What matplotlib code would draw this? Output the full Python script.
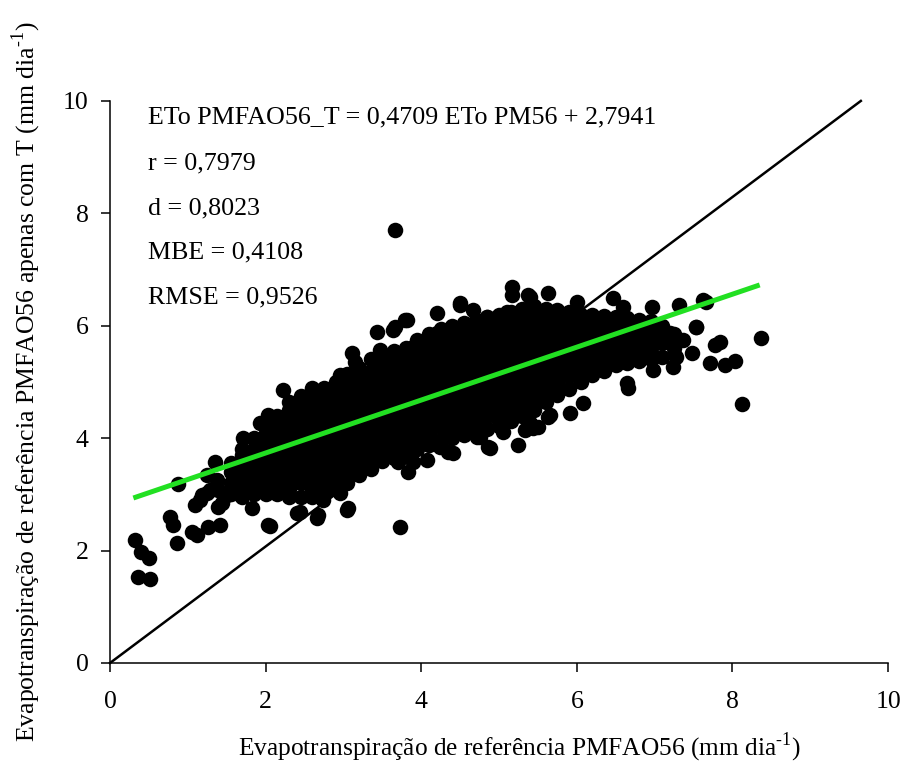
#!/usr/bin/env python3
"""ETo PMFAO56 com apenas temperatura vs ETo PMFAO56 padrao - dispersao."""

import matplotlib

matplotlib.use("Agg")
import matplotlib.pyplot as plt

plt.rcParams["font.family"] = ["Liberation Serif", "DejaVu Serif"]
plt.rcParams["mathtext.fontset"] = "custom"
plt.rcParams["mathtext.rm"] = "Liberation Serif"

# regression / statistics
slope = 0.4709
intercept = 2.7941
stats_lines = [
    "ETo PMFAO56_T = 0,4709 ETo PM56 + 2,7941",
    "r = 0,7979",
    "d = 0,8023",
    "MBE = 0,4108",
    "RMSE = 0,9526",
]
stats_y = [9.70, 8.88, 8.08, 7.30, 6.51]

# dense core of the cloud, read column by column (x, [y ...])
core_columns = [
    (1.55, [3.00, 3.20, 3.40, 3.55]),
    (1.70, [2.95, 3.10, 3.30, 3.50, 3.70, 3.80]),
    (1.85, [3.00, 3.20, 3.40, 3.60, 3.80, 4.00]),
    (2.00, [3.00, 3.10, 3.30, 3.50, 3.70, 3.90, 4.10, 4.25]),
    (2.15, [3.00, 3.20, 3.40, 3.60, 3.80, 4.00, 4.20, 4.40]),
    (2.30, [2.95, 3.10, 3.30, 3.50, 3.70, 3.90, 4.10, 4.30, 4.50, 4.65]),
    (2.45, [2.95, 3.20, 3.40, 3.60, 3.80, 4.00, 4.20, 4.40, 4.60, 4.75]),
    (2.60, [2.95, 3.10, 3.30, 3.50, 3.70, 3.90, 4.10, 4.30, 4.50, 4.70, 4.85]),
    (2.75, [3.00, 3.20, 3.40, 3.60, 3.80, 4.00, 4.20, 4.40, 4.60, 4.80, 4.90]),
    (2.90, [3.10, 3.30, 3.50, 3.70, 3.90, 4.10, 4.30, 4.50, 4.70, 4.90, 5.00]),
    (3.05, [3.20, 3.40, 3.60, 3.80, 4.00, 4.20, 4.40, 4.60, 4.80, 5.00, 5.15]),
    (3.20, [3.35, 3.50, 3.70, 3.90, 4.10, 4.30, 4.50, 4.70, 4.90, 5.10, 5.25]),
    (3.35, [3.45, 3.60, 3.80, 4.00, 4.20, 4.40, 4.60, 4.80, 5.00, 5.20, 5.40]),
    (3.50, [3.60, 3.70, 3.90, 4.10, 4.30, 4.50, 4.70, 4.90, 5.10, 5.30, 5.50]),
    (3.65, [3.65, 3.80, 4.00, 4.20, 4.40, 4.60, 4.80, 5.00, 5.20, 5.40, 5.55]),
    (3.80, [3.68, 3.90, 4.10, 4.30, 4.50, 4.70, 4.90, 5.10, 5.30, 5.50, 5.60]),
    (3.95, [3.80, 4.00, 4.20, 4.40, 4.60, 4.80, 5.00, 5.20, 5.40, 5.60, 5.75]),
    (4.10, [3.88, 4.10, 4.30, 4.50, 4.70, 4.90, 5.10, 5.30, 5.50, 5.70, 5.85]),
    (4.25, [3.97, 4.20, 4.40, 4.60, 4.80, 5.00, 5.20, 5.40, 5.60, 5.80, 5.95]),
    (4.40, [4.00, 4.10, 4.30, 4.50, 4.70, 4.90, 5.10, 5.30, 5.50, 5.70, 5.90, 6.00]),
    (4.55, [4.05, 4.20, 4.40, 4.60, 4.80, 5.00, 5.20, 5.40, 5.60, 5.80, 6.00, 6.05]),
    (4.70, [4.12, 4.30, 4.50, 4.70, 4.90, 5.10, 5.30, 5.50, 5.70, 5.90, 6.10]),
    (4.85, [4.17, 4.40, 4.60, 4.80, 5.00, 5.20, 5.40, 5.60, 5.80, 6.00, 6.15]),
    (5.00, [4.22, 4.30, 4.50, 4.70, 4.90, 5.10, 5.30, 5.50, 5.70, 5.90, 6.10, 6.20]),
    (5.15, [4.30, 4.40, 4.60, 4.80, 5.00, 5.20, 5.40, 5.60, 5.80, 6.00, 6.20, 6.25]),
    (5.30, [4.40, 4.50, 4.70, 4.90, 5.10, 5.30, 5.50, 5.70, 5.90, 6.10, 6.30]),
    (5.45, [4.50, 4.60, 4.80, 5.00, 5.20, 5.40, 5.60, 5.80, 6.00, 6.20, 6.35]),
    (5.60, [4.65, 4.70, 4.90, 5.10, 5.30, 5.50, 5.70, 5.90, 6.10, 6.30]),
    (5.75, [4.77, 4.80, 5.00, 5.20, 5.40, 5.60, 5.80, 6.00, 6.20, 6.28]),
    (5.90, [4.88, 5.10, 5.30, 5.50, 5.70, 5.90, 6.10, 6.25]),
    (6.05, [5.00, 5.20, 5.40, 5.60, 5.80, 6.00, 6.20]),
    (6.20, [5.12, 5.30, 5.50, 5.70, 5.90, 6.10, 6.20]),
    (6.35, [5.20, 5.40, 5.60, 5.80, 6.00, 6.18]),
    (6.50, [5.30, 5.50, 5.70, 5.90, 6.10, 6.15]),
    (6.65, [5.33, 5.40, 5.60, 5.80, 6.00, 6.13]),
    (6.80, [5.37, 5.50, 5.70, 5.90, 6.10]),
    (6.95, [5.40, 5.60, 5.80, 6.00, 6.08]),
    (7.10, [5.45, 5.70, 5.90, 6.00]),
    (7.25, [5.50, 5.60, 5.80, 5.85]),
]

upper_edge = [
    (2.22, 4.86), (2.60, 4.89), (2.72, 4.86), (2.96, 5.12), (3.11, 5.52),
    (3.15, 5.36), (3.43, 5.89), (3.47, 5.57), (3.64, 5.93), (3.66, 5.98),
    (3.79, 6.10), (3.82, 6.10), (3.89, 5.62), (4.20, 6.23), (4.20, 5.87),
    (4.50, 6.37), (4.50, 6.41), (4.67, 6.28), (4.85, 6.16), (5.10, 6.25),
    (5.17, 6.69), (5.17, 6.55), (5.37, 6.55), (5.40, 6.51), (5.63, 6.58),
    (6.00, 6.42), (6.47, 6.49), (6.59, 6.33), (6.97, 6.33), (7.31, 6.37),
    (7.20, 5.87), (7.37, 5.75), (7.53, 5.98), (2.03, 4.41), (1.93, 4.27),
    (1.71, 4.00), (1.35, 3.58),
]

lower_edge = [
    (1.83, 2.76), (2.06, 2.44), (2.03, 2.46), (2.40, 2.67), (2.44, 2.69),
    (2.66, 2.58), (2.67, 2.63), (2.74, 2.90), (2.83, 3.26), (2.96, 3.02),
    (3.05, 2.72), (3.06, 2.76), (3.70, 3.58), (3.83, 3.40), (3.89, 3.58),
    (4.07, 3.61), (4.24, 3.84), (4.34, 3.75), (4.41, 3.74), (4.72, 4.02),
    (4.76, 4.02), (4.86, 3.84), (4.88, 3.83), (5.05, 4.11), (5.24, 3.88),
    (5.33, 4.15), (5.40, 4.27), (5.44, 4.18), (5.50, 4.20), (5.63, 4.38),
    (5.66, 4.41), (5.91, 4.45), (6.08, 4.63), (6.65, 4.98), (6.66, 4.89),
    (6.98, 5.21), (7.24, 5.27), (7.28, 5.45), (7.48, 5.52),
]

low_end = [
    (0.32, 2.19), (0.40, 1.98), (0.50, 1.87), (0.36, 1.53), (0.51, 1.49),
    (0.77, 2.60), (0.81, 2.46), (0.86, 2.13), (0.87, 3.18), (1.05, 2.33),
    (1.12, 2.28), (1.09, 2.81), (1.18, 2.99), (1.26, 2.42), (1.41, 2.46),
    (1.25, 3.35), (1.16, 2.90), (1.25, 3.02), (1.29, 3.08), (1.37, 3.26),
    (1.39, 2.78), (1.44, 2.85), (1.50, 2.99), (1.39, 3.08),
]

right_tail = [
    (7.62, 6.46), (7.66, 6.42), (7.53, 5.98), (7.78, 5.66), (7.84, 5.71),
    (7.71, 5.34), (7.90, 5.30), (8.03, 5.37), (8.37, 5.78), (8.12, 4.61),
]

stray = [(3.66, 7.70), (3.73, 2.42)]


def main() -> None:
    pm56 = []
    pm56_t = []
    for x, ys in core_columns:
        pm56 += [x] * len(ys)
        pm56_t += ys
    for group in (upper_edge, lower_edge, low_end, right_tail, stray):
        pm56 += [p[0] for p in group]
        pm56_t += [p[1] for p in group]

    fig = plt.figure(figsize=(9.1, 7.71), dpi=100)
    ax = fig.add_axes([0.1209, 0.1401, 0.855, 0.729])

    # 1:1 line
    ax.plot([0, 9.65], [0, 10], color="black", lw=1.8, zorder=1, clip_on=False)
    ax.scatter(pm56, pm56_t, s=125, color="black", linewidths=0, zorder=2)
    fit_x = [0.30, 8.35]
    ax.plot(fit_x, [slope * v + intercept for v in fit_x], color="#22e022", lw=3.6,
            solid_capstyle="butt", zorder=3)

    for txt, yy in zip(stats_lines, stats_y):
        ax.text(0.49, yy, txt, fontsize=18.7, va="center", ha="left")

    ax.set_xlim(0, 10)
    ax.set_ylim(0, 10)
    ax.set_xticks([0, 2, 4, 6, 8, 10])
    ax.set_yticks([0, 2, 4, 6, 8, 10])
    ax.tick_params(direction="out", length=6.5, width=1.1, labelsize=18.5)
    ax.tick_params(axis="x", pad=14)
    ax.tick_params(axis="y", pad=9)
    for side in ("top", "right"):
        ax.spines[side].set_visible(False)
    for side in ("left", "bottom"):
        ax.spines[side].set_linewidth(1.1)

    ax.set_xlabel(r"Evapotranspiração de referência PMFAO56 (mm dia$^{\text{-1}}$)",
                  fontsize=18.3, labelpad=13)
    ax.xaxis.label.set_x(0.526)
    ax.set_ylabel(r"Evapotranspiração de referência PMFAO56 apenas com T (mm dia$^{\text{-1}}$)",
                  fontsize=18.5, labelpad=14)

    fig.savefig("out.png", dpi=100)
    plt.close(fig)


if __name__ == "__main__":
    main()
